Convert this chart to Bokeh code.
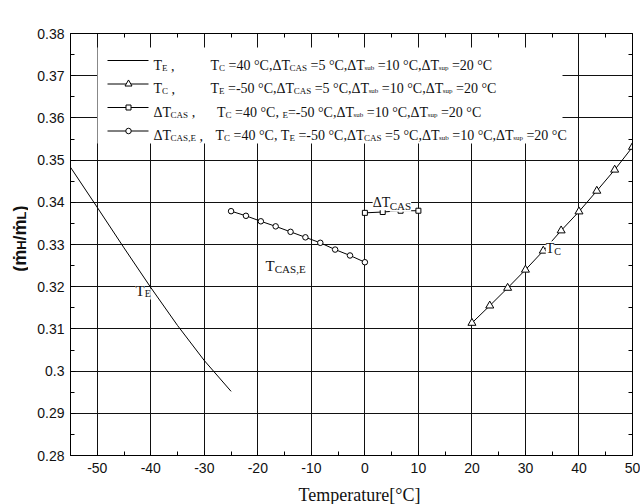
import math
from bokeh.plotting import figure
from bokeh.layouts import row, column
from bokeh.models import (FixedTicker, LinearAxis, Label, BoxAnnotation, Range1d,
                          CustomJSTickFormatter)
from bokeh.embed import file_html
from bokeh.resources import INLINE

# ---------------- data ----------------
te_x = [-55, -50, -45, -40, -35, -30, -25]
te_y = [0.3483, 0.3388, 0.3292, 0.3198, 0.3108, 0.3025, 0.2952]

tc_x = [20, 23.33, 26.67, 30, 33.33, 36.67, 40, 43.33, 46.67, 50]
tc_y = [0.3114, 0.3155, 0.3197, 0.3240, 0.3285, 0.3333, 0.3378, 0.3427, 0.3477, 0.3531]

dtcas_x = [0, 3.33, 6.67, 10]
dtcas_y = [0.3375, 0.3377, 0.3380, 0.3380]

tcase_x = [-25, -22.22, -19.44, -16.67, -13.89, -11.11, -8.33, -5.56, -2.78, 0]
tcase_y = [0.3379, 0.3368, 0.3355, 0.3343, 0.3330, 0.3317, 0.3304, 0.3288, 0.3274, 0.3258]

x_ticks = [-50, -40, -30, -20, -10, 0, 10, 20, 30, 40, 50]
x_minor = [-45, -35, -25, -15, -5, 5, 15, 25, 35, 45]
x_tick_labels = ["-50", "-40", "-30", "-20", "-10", "0", "10", "20", "30", "40", "50"]
y_ticks = [0.28, 0.29, 0.30, 0.31, 0.32, 0.33, 0.34, 0.35, 0.36, 0.37, 0.38]
y_minor = [0.285, 0.295, 0.305, 0.315, 0.325, 0.335, 0.345, 0.355, 0.365, 0.375]
y_tick_labels = ["0.28", "0.29", "0.3", "0.31", "0.32", "0.33", "0.34", "0.35", "0.36", "0.37", "0.38"]

X0, X1, Y0, Y1 = -55, 50, 0.28, 0.38

# ---------------- layout (page pixels) ----------------
PW, PH = 640, 504          # whole page
YLW = 28                   # strip holding the rotated y title
XLH = 26                   # strip holding the x title
MW, MH = PW - YLW, PH - XLH
BL, BR, BT, BB = 42, 8, 33, 23
FL, FT = YLW + BL, BT      # frame top-left on the page
FW, FH = MW - BL - BR, MH - BT - BB

def X(px):
    return X0 + (px - FL) * (X1 - X0) / FW

def Y(py):
    return Y1 - (py - FT) * (Y1 - Y0) / FH

SERIF = "Liberation Serif"
SANS = "Liberation Sans"
INK = "#111111"

TIMES = {' ': 250, ',': 250, '-': 333, '.': 250, '=': 564, '°': 400, 'A': 722, 'C': 667,
         'E': 611, 'S': 556, 'T': 611, 'b': 500, 'p': 500, 's': 389, 'u': 500, 'Δ': 612}
ARIALB = {'(': 333, ')': 333, '/': 278, 'ṁ': 889, 'H': 722, 'L': 611}

def tw(s, size, table):
    return sum(table.get(c, 500) for c in s) * size / 1000.0

p = figure(width=MW, height=MH, x_range=Range1d(X0, X1), y_range=Range1d(Y0, Y1),
           output_backend="svg", toolbar_location=None, title=None,
           min_border_left=BL, min_border_right=BR, min_border_top=BT, min_border_bottom=BB,
           background_fill_color="white", border_fill_color="white",
           outline_line_color="black", outline_line_width=1)

xt = FixedTicker(ticks=x_ticks, minor_ticks=x_minor)
yt = FixedTicker(ticks=y_ticks, minor_ticks=y_minor)

xa = p.xaxis[0]
xa.ticker = xt
xa.major_label_overrides = {t: l for t, l in zip(x_ticks, x_tick_labels)}
ya = p.yaxis[0]
ya.ticker = yt
ya.formatter = CustomJSTickFormatter(args=dict(tv=y_ticks, tl=y_tick_labels), code="""
let b = 0;
for (let i = 0; i < tv.length; i++) {
  if (Math.abs(tv[i] - tick) < Math.abs(tv[b] - tick)) b = i;
}
return tl[b];
""")
for ax in (xa, ya):
    ax.major_tick_in = 5
    ax.major_tick_out = 0
    ax.minor_tick_in = 4
    ax.minor_tick_out = 0
    ax.axis_line_color = "black"
    ax.major_tick_line_color = "black"
    ax.minor_tick_line_color = "black"
    ax.major_label_text_font = SANS
    ax.major_label_text_font_size = "14px"
    ax.major_label_text_color = INK
xa.major_label_standoff = 7
ya.major_label_standoff = 6

for loc, tk in (("above", xt), ("right", yt)):
    ax = LinearAxis(ticker=tk, major_label_text_font_size="1px", major_label_text_color=None,
                    major_label_standoff=0,
                    major_tick_in=0, major_tick_out=0, minor_tick_in=4, minor_tick_out=0,
                    axis_line_color="black", minor_tick_line_color="black")
    p.add_layout(ax, loc)

p.xgrid.ticker = xt
p.ygrid.ticker = yt
for g in (p.xgrid, p.ygrid):
    g.grid_line_color = "#111111"
    g.grid_line_width = 1

# legend background (hides the grid)
p.add_layout(BoxAnnotation(left=X(97), right=X(562), top=Y(47), bottom=Y(143),
                           fill_color="white", fill_alpha=1, line_color=None, level="underlay"))

# ---------------- series ----------------
p.line(te_x, te_y, line_color="black", line_width=1)
p.line(tc_x, tc_y, line_color="black", line_width=1)
p.scatter(tc_x, tc_y, marker="triangle", size=8, fill_color="white", line_color="black")
p.line(dtcas_x, dtcas_y, line_color="black", line_width=1)
p.scatter(dtcas_x, dtcas_y, marker="square", size=5, fill_color="white", line_color="black")
p.line(tcase_x, tcase_y, line_color="black", line_width=1)
p.scatter(tcase_x, tcase_y, marker="circle", size=5.5, fill_color="white", line_color="black")

# ---------------- rich text helper ----------------
def rich(fig, x, y, segs, xo=0.0, yo=0.0, font=SERIF, table=TIMES, style="normal",
         bg=None, rotate=False):
    off = 0.0
    for t, size, dy in segs:
        lead = len(t) - len(t.lstrip(' '))
        core = t.strip(' ')
        if core:
            lo = off + tw(' ' * lead, size, table)
            kw = dict(x=x, y=y, text=core, text_font=font, text_font_size=f"{size}px",
                      text_font_style=style, text_color=INK, text_align="left",
                      text_baseline="alphabetic")
            if bg:
                kw.update(background_fill_color=bg, background_fill_alpha=1)
            if rotate:
                kw.update(angle=math.pi / 2, x_offset=xo + dy, y_offset=yo + lo)
            else:
                kw.update(x_offset=xo + lo, y_offset=yo - dy)
            fig.add_layout(Label(**kw))
        off += tw(t, size, table)

M, S1, S2, D = 14, 9, 7, 2.5

# legend samples
rows_py = [60.0, 83.5, 107.0, 130.5]
for ry in rows_py:
    p.line([X(107), X(148)], [Y(ry), Y(ry)], line_color="black", line_width=1)
p.scatter([X(128)], [Y(rows_py[1])], marker="triangle", size=7, fill_color="white", line_color="black")
p.scatter([X(128)], [Y(rows_py[2])], marker="square", size=5, fill_color="white", line_color="black")
p.scatter([X(128)], [Y(rows_py[3])], marker="circle", size=5.5, fill_color="white", line_color="black")

base = [65.0, 88.3, 111.7, 135.0]
col2 = [210.0, 210.0, 216.5, 215.0]
col1_texts = [
    [("T", M, 0), ("E", S1, D), (" ,", M, 0)],
    [("T", M, 0), ("C", S1, D), (" ,", M, 0)],
    [("ΔT", M, 0), ("CAS", S1, D), (" ,", M, 0)],
    [("ΔT", M, 0), ("CAS,E", S1, D), (" ,", M, 0)],
]
col2_texts = [
    [("T", M, 0), ("C", S1, D), (" =40 °C,ΔT", M, 0), ("CAS", S1, D), (" =5 °C,ΔT", M, 0),
     ("sub", S2, D), (" =10 °C,ΔT", M, 0), ("sup", S2, D), (" =20 °C", M, 0)],
    [("T", M, 0), ("E", S1, D), (" =-50 °C,ΔT", M, 0), ("CAS", S1, D), (" =5 °C,ΔT", M, 0),
     ("sub", S2, D), (" =10 °C,ΔT", M, 0), ("sup", S2, D), (" =20 °C", M, 0)],
    [("T", M, 0), ("C", S1, D), (" =40 °C, ", M, 0), ("E", S1, D), ("=-50 °C,ΔT", M, 0),
     ("sub", S2, D), (" =10 °C,ΔT", M, 0), ("sup", S2, D), (" =20 °C", M, 0)],
    [("T", M, 0), ("C", S1, D), (" =40 °C, T", M, 0), ("E", S1, D), (" =-50 °C,ΔT", M, 0),
     ("CAS", S1, D), (" =5 °C,ΔT", M, 0), ("sub", S2, D), (" =10 °C,ΔT", M, 0),
     ("sup", S2, D), (" =20 °C", M, 0)],
]
for i in range(4):
    rich(p, X0, Y1, col1_texts[i], xo=153 - FL, yo=-(base[i] - FT))
    rich(p, X0, Y1, col2_texts[i], xo=col2[i] - FL, yo=-(base[i] - FT))

# in-plot curve labels
rich(p, -42.85, 0.3190, [("T", 15, 0), ("E", 10, 3)], bg="white")
rich(p, -18.55, 0.3250, [("T", 15, 0), ("CAS,E", 11, 3)], bg="white")
rich(p, 1.45, 0.3399, [("ΔT", 14, 0), ("CAS", 11, 3)], bg="white")
rich(p, 33.8, 0.3290, [("T", 14, 0), ("C", 10, 3)], bg="white")

# ---------------- title strips ----------------
def strip(w, h, x0, x1, y0, y1):
    f = figure(width=w, height=h, x_range=Range1d(x0, x1), y_range=Range1d(y1, y0),
               output_backend="svg", toolbar_location=None, title=None,
               x_axis_location=None, y_axis_location=None, min_border=0,
               min_border_left=0, min_border_right=0, min_border_top=0, min_border_bottom=0,
               outline_line_color=None, background_fill_color="white",
               border_fill_color="white")
    f.grid.visible = False
    return f

# y title strip: coordinates = page pixels
yl = strip(YLW, MH, 0, YLW, 0, MH)
rich(yl, 19, 270, [("(ṁ", 18, 0), ("H", 13, 2), ("/ṁ", 18, 0), ("L", 13, 2), (")", 18, 0)],
     font=SANS, table=ARIALB, style="bold", rotate=True)

# x title strip (full page width): anchored at the strip's top edge, offset in pixels
xl = strip(PW, XLH, 0, PW, MH, PH)
xl.add_layout(Label(x=359, y=MH, y_offset=-(494 - MH), text="Temperature[°C]", text_font=SERIF,
                    text_font_size="18px", text_color=INK, text_align="center",
                    text_baseline="alphabetic"))

layout = column(row(yl, p, spacing=0), xl, spacing=0)
open("out.html", "w").write(file_html(layout, INLINE))
